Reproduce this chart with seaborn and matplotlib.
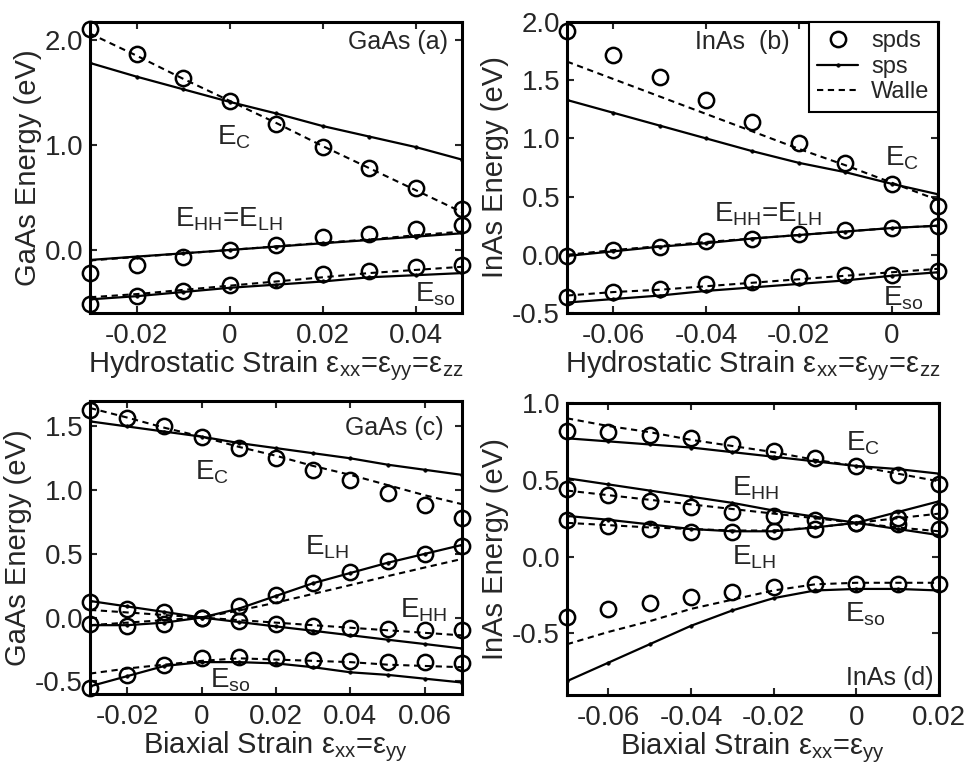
import matplotlib
matplotlib.use("Agg")
import matplotlib.pyplot as plt
from matplotlib.ticker import FuncFormatter, FormatStrFormatter
import seaborn as sns

# strain grids
strain_a = [-0.03, -0.02, -0.01, 0.0, 0.01, 0.02, 0.03, 0.04, 0.05]
strain_b = [-0.07, -0.06, -0.05, -0.04, -0.03, -0.02, -0.01, 0.0, 0.01]
strain_c = [-0.03, -0.02, -0.01, 0.0, 0.01, 0.02, 0.03, 0.04, 0.05, 0.06, 0.07]
strain_d = [-0.07, -0.06, -0.05, -0.04, -0.03, -0.02, -0.01, 0.0, 0.01, 0.02]

# (a) GaAs, hydrostatic
a_ec_spds = [2.10, 1.87, 1.64, 1.42, 1.20, 0.98, 0.78, 0.59, 0.39]
a_ec_sps = [1.78, 1.65, 1.53, 1.41, 1.30, 1.18, 1.08, 0.98, 0.86]
a_ec_walle = [2.06, 1.85, 1.63, 1.42, 1.21, 0.99, 0.78, 0.57, 0.36]
a_hh_spds = [-0.22, -0.14, -0.07, 0.0, 0.05, 0.12, 0.15, 0.20, 0.24]
a_hh_sps = [-0.095, -0.063, -0.032, 0.0, 0.032, 0.064, 0.095, 0.127, 0.159]
a_hh_walle = [-0.10, -0.066, -0.033, 0.0, 0.034, 0.068, 0.10, 0.14, 0.175]
a_so_spds = [-0.51, -0.44, -0.39, -0.33, -0.29, -0.23, -0.20, -0.16, -0.14]
a_so_sps = [-0.47, -0.44, -0.40, -0.36, -0.33, -0.30, -0.26, -0.24, -0.22]
a_so_walle = [-0.45, -0.42, -0.38, -0.34, -0.30, -0.26, -0.22, -0.19, -0.16]

# (b) InAs, hydrostatic
b_ec_spds = [1.92, 1.72, 1.53, 1.33, 1.14, 0.96, 0.79, 0.61, 0.42]
b_ec_sps = [1.33, 1.22, 1.11, 1.00, 0.89, 0.79, 0.71, 0.61, 0.52]
b_ec_walle = [1.66, 1.51, 1.36, 1.21, 1.06, 0.91, 0.77, 0.62, 0.47]
b_hh_spds = [-0.01, 0.04, 0.07, 0.12, 0.14, 0.18, 0.21, 0.23, 0.25]
b_hh_sps = [-0.01, 0.03, 0.07, 0.10, 0.14, 0.17, 0.20, 0.23, 0.25]
b_hh_walle = [0.0, 0.04, 0.075, 0.11, 0.14, 0.17, 0.20, 0.23, 0.25]
b_so_spds = [-0.36, -0.32, -0.29, -0.25, -0.23, -0.19, -0.17, -0.17, -0.14]
b_so_sps = [-0.41, -0.38, -0.35, -0.31, -0.28, -0.25, -0.22, -0.18, -0.15]
b_so_walle = [-0.35, -0.32, -0.30, -0.27, -0.24, -0.21, -0.18, -0.15, -0.12]

# (c) GaAs, biaxial
c_ec_spds = [1.63, 1.57, 1.50, 1.42, 1.33, 1.25, 1.16, 1.08, 0.98, 0.88, 0.78]
c_ec_sps = [1.54, 1.50, 1.46, 1.42, 1.37, 1.33, 1.29, 1.25, 1.20, 1.16, 1.12]
c_ec_walle = [1.645, 1.57, 1.49, 1.42, 1.34, 1.27, 1.19, 1.12, 1.04, 0.96, 0.89]
c_lh_spds = [-0.05, -0.07, -0.05, 0.0, 0.09, 0.18, 0.27, 0.36, 0.44, 0.50, 0.56]
c_lh_sps = [-0.06, -0.06, -0.04, 0.0, 0.07, 0.17, 0.27, 0.35, 0.43, 0.50, 0.57]
c_lh_walle = [-0.06, -0.04, -0.02, 0.0, 0.055, 0.117, 0.186, 0.255, 0.325, 0.393, 0.46]
c_hh_spds = [0.12, 0.07, 0.04, 0.0, -0.03, -0.05, -0.07, -0.08, -0.09, -0.10, -0.10]
c_hh_sps = [0.13, 0.087, 0.044, 0.0, -0.035, -0.07, -0.104, -0.139, -0.174, -0.208, -0.243]
c_hh_walle = [0.06, 0.04, 0.02, 0.0, -0.02, -0.04, -0.06, -0.08, -0.10, -0.12, -0.14]
c_so_spds = [-0.55, -0.45, -0.37, -0.32, -0.31, -0.32, -0.33, -0.34, -0.35, -0.35, -0.36]
c_so_sps = [-0.54, -0.46, -0.38, -0.35, -0.35, -0.36, -0.39, -0.43, -0.45, -0.48, -0.51]
c_so_walle = [-0.44, -0.40, -0.37, -0.34, -0.32, -0.33, -0.34, -0.35, -0.37, -0.38, -0.39]

# (d) InAs, biaxial
d_ec_spds = [0.82, 0.81, 0.79, 0.77, 0.73, 0.69, 0.64, 0.59, 0.53, 0.47]
d_ec_sps = [0.77, 0.75, 0.73, 0.71, 0.68, 0.65, 0.62, 0.59, 0.57, 0.54]
d_ec_walle = [0.90, 0.85, 0.81, 0.76, 0.72, 0.68, 0.63, 0.59, 0.54, 0.49]
d_hh_spds = [0.44, 0.40, 0.36, 0.32, 0.29, 0.265, 0.24, 0.22, 0.21, 0.18]
d_hh_sps = [0.51, 0.47, 0.43, 0.39, 0.35, 0.30, 0.26, 0.22, 0.18, 0.14]
d_hh_walle = [0.43, 0.40, 0.37, 0.34, 0.31, 0.28, 0.25, 0.22, 0.19, 0.165]
d_lh_spds = [0.24, 0.20, 0.18, 0.16, 0.16, 0.17, 0.18, 0.22, 0.25, 0.30]
d_lh_sps = [0.265, 0.24, 0.21, 0.18, 0.165, 0.165, 0.19, 0.22, 0.29, 0.36]
d_lh_walle = [0.22, 0.205, 0.19, 0.18, 0.17, 0.17, 0.19, 0.22, 0.25, 0.28]
d_so_spds = [-0.39, -0.34, -0.30, -0.26, -0.23, -0.20, -0.18, -0.18, -0.18, -0.18]
d_so_sps = [-0.81, -0.69, -0.57, -0.45, -0.35, -0.27, -0.22, -0.21, -0.21, -0.22]
d_so_walle = [-0.57, -0.49, -0.42, -0.34, -0.28, -0.22, -0.18, -0.17, -0.17, -0.17]

sns.set_style("ticks")
plt.rcParams["font.family"] = ["Liberation Sans", "DejaVu Sans"]
plt.rcParams["mathtext.fontset"] = "custom"
plt.rcParams["mathtext.rm"] = "Liberation Sans"
plt.rcParams["mathtext.it"] = "Liberation Sans"
plt.rcParams["mathtext.default"] = "regular"
plt.rcParams["axes.unicode_minus"] = False

TICK_FS = 20
XLABEL_FS = 21
YLABEL_FS = 21
TEXT_FS = 18
BAND_FS = 20


def draw_band(ax, x, spds, sps, walle, with_label=False):
    sns.lineplot(x=x, y=walle, ax=ax, color="k", linewidth=1.5,
                 linestyle=(0, (3, 2.2)), estimator=None, sort=False,
                 label="Walle" if with_label else None)
    sns.lineplot(x=x, y=sps, ax=ax, color="k", linewidth=1.6, marker=".",
                 markersize=5, markeredgecolor="k", markeredgewidth=0.5,
                 estimator=None, sort=False,
                 label="sps" if with_label else None)
    sns.lineplot(x=x, y=spds, ax=ax, color="k", linestyle="", marker="o",
                 markersize=11, markerfacecolor="none", markeredgecolor="k",
                 markeredgewidth=1.8, estimator=None, sort=False, clip_on=False,
                 label="spds" if with_label else None)


def style_axes(ax, xlim, ylim, xticks, yticks, xlabel, ylabel):
    ax.set_xlim(*xlim)
    ax.set_ylim(*ylim)
    ax.set_xticks(xticks)
    ax.set_yticks(yticks)
    ax.xaxis.set_major_formatter(FuncFormatter(lambda v, p: "0" if abs(v) < 1e-9 else f"{v:g}"))
    ax.yaxis.set_major_formatter(FormatStrFormatter("%.1f"))
    ax.tick_params(direction="in", length=5, width=1.5, top=True, right=True,
                   labelsize=TICK_FS)
    ax.tick_params(axis="x", pad=7)
    ax.tick_params(axis="y", pad=5)
    for sp in ax.spines.values():
        sp.set_visible(True)
        sp.set_linewidth(2.2)
        sp.set_color("k")
    ax.set_xlabel(xlabel, fontsize=XLABEL_FS, labelpad=0)
    ax.set_ylabel(ylabel, fontsize=YLABEL_FS, labelpad=2)


def band_text(ax, x, y, s):
    ax.text(x, y, s, fontsize=BAND_FS, ha="left", va="baseline")


fig = plt.figure(figsize=(9.69, 7.80), dpi=100)
ax_a = fig.add_axes([0.0929, 0.5987, 0.3839, 0.3731])
ax_b = fig.add_axes([0.5851, 0.5987, 0.3829, 0.3731])
ax_c = fig.add_axes([0.0929, 0.1103, 0.3839, 0.3756])
ax_d = fig.add_axes([0.5851, 0.1090, 0.3839, 0.3744])

hydro = r"Hydrostatic Strain $ε_{xx}$=$ε_{yy}$=$ε_{zz}$"
biax = r"Biaxial Strain $ε_{xx}$=$ε_{yy}$"

# (a)
draw_band(ax_a, strain_a, a_ec_spds, a_ec_sps, a_ec_walle)
draw_band(ax_a, strain_a, a_hh_spds, a_hh_sps, a_hh_walle)
draw_band(ax_a, strain_a, a_so_spds, a_so_sps, a_so_walle)
style_axes(ax_a, (-0.03, 0.05), (-0.6, 2.17), [-0.02, 0, 0.02, 0.04], [0, 1, 2],
           hydro, "GaAs Energy (eV)")
ax_a.text(0.0362, 1.98, "GaAs (a)", fontsize=TEXT_FS, ha="center", va="center")
band_text(ax_a, -0.0027, 1.0, r"$E_C$")
band_text(ax_a, -0.0117, 0.219, r"$E_{HH}$=$E_{LH}$")
band_text(ax_a, 0.0399, -0.495, r"$E_{so}$")

# (b)
draw_band(ax_b, strain_b, b_ec_spds, b_ec_sps, b_ec_walle, with_label=True)
draw_band(ax_b, strain_b, b_hh_spds, b_hh_sps, b_hh_walle)
draw_band(ax_b, strain_b, b_so_spds, b_so_sps, b_so_walle)
style_axes(ax_b, (-0.07, 0.01), (-0.5, 2.0), [-0.06, -0.04, -0.02, 0],
           [-0.5, 0, 0.5, 1.0, 1.5, 2.0], hydro, "InAs Energy (eV)")
ax_b.text(-0.0424, 1.771, "InAs  (b)", fontsize=TEXT_FS, ha="left", va="baseline")
band_text(ax_b, -0.0015, 0.771, r"$E_C$")
band_text(ax_b, -0.0384, 0.285, r"$E_{HH}$=$E_{LH}$")
band_text(ax_b, -0.0018, -0.437, r"$E_{so}$")
handles, labels = ax_b.get_legend_handles_labels()
order = [labels.index(k) for k in ["spds", "sps", "Walle"]]
leg = ax_b.legend([handles[i] for i in order], [labels[i] for i in order],
                  loc="upper right", bbox_to_anchor=(1.0, 1.0), borderaxespad=0,
                  fontsize=17, frameon=True, fancybox=False, framealpha=1,
                  edgecolor="k", borderpad=0.35, labelspacing=0.15,
                  handlelength=1.75, handletextpad=0.55)
leg.get_frame().set_linewidth(1.5)

# (c)
draw_band(ax_c, strain_c, c_ec_spds, c_ec_sps, c_ec_walle)
draw_band(ax_c, strain_c, c_lh_spds, c_lh_sps, c_lh_walle)
draw_band(ax_c, strain_c, c_hh_spds, c_hh_sps, c_hh_walle)
draw_band(ax_c, strain_c, c_so_spds, c_so_sps, c_so_walle)
style_axes(ax_c, (-0.03, 0.07), (-0.6, 1.7), [-0.02, 0, 0.02, 0.04, 0.06],
           [-0.5, 0, 0.5, 1.0, 1.5], biax, "GaAs Energy (eV)")
ax_c.text(0.0386, 1.435, "GaAs (c)", fontsize=TEXT_FS, ha="left", va="baseline")
band_text(ax_c, -0.0018, 1.083, r"$E_C$")
band_text(ax_c, 0.0278, 0.496, r"$E_{LH}$")
band_text(ax_c, 0.0533, 0.0, r"$E_{HH}$")
band_text(ax_c, 0.0023, -0.548, r"$E_{so}$")

# (d)
draw_band(ax_d, strain_d, d_ec_spds, d_ec_sps, d_ec_walle)
draw_band(ax_d, strain_d, d_hh_spds, d_hh_sps, d_hh_walle)
draw_band(ax_d, strain_d, d_lh_spds, d_lh_sps, d_lh_walle)
draw_band(ax_d, strain_d, d_so_spds, d_so_sps, d_so_walle)
style_axes(ax_d, (-0.07, 0.02), (-0.9, 1.0), [-0.06, -0.04, -0.02, 0, 0.02],
           [-0.5, 0, 0.5, 1.0], biax, "InAs Energy (eV)")
band_text(ax_d, -0.0024, 0.69, r"$E_C$")
band_text(ax_d, -0.0301, 0.396, r"$E_{HH}$")
band_text(ax_d, -0.0301, -0.05, r"$E_{LH}$")
band_text(ax_d, -0.0028, -0.419, r"$E_{so}$")
ax_d.text(-0.0024, -0.832, "InAs (d)", fontsize=TEXT_FS, ha="left", va="baseline")

fig.savefig("out.png", dpi=100)
